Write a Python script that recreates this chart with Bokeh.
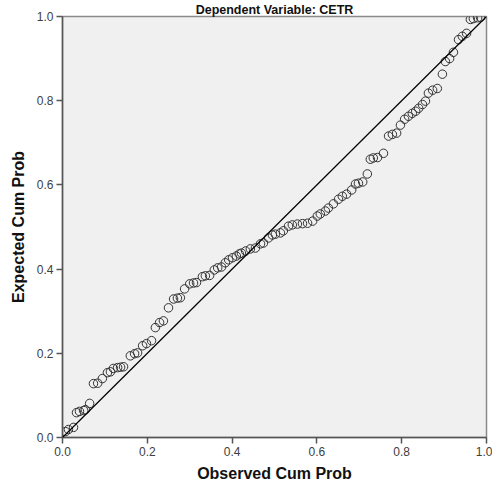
from bokeh.plotting import figure
from bokeh.models import (FixedTicker, PrintfTickFormatter, Slope, Range1d)
from bokeh.embed import file_html
from bokeh.resources import INLINE

title_text = "Dependent Variable: CETR"
x_label = "Observed Cum Prob"
y_label = "Expected Cum Prob"
tick_values = [0.0, 0.2, 0.4, 0.6, 0.8, 1.0]

observed_cum_prob = [
    0.007, 0.014, 0.026, 0.033, 0.040, 0.050, 0.054, 0.064, 0.073, 0.083,
    0.094, 0.106, 0.113, 0.120, 0.130, 0.137, 0.144, 0.160, 0.170, 0.177,
    0.189, 0.198, 0.210, 0.219, 0.229, 0.238, 0.250, 0.262, 0.271, 0.278,
    0.288, 0.300, 0.309, 0.316, 0.330, 0.337, 0.347, 0.358, 0.366, 0.375,
    0.384, 0.392, 0.401, 0.410, 0.417, 0.422, 0.432, 0.443, 0.455, 0.467,
    0.474, 0.486, 0.495, 0.502, 0.514, 0.521, 0.533, 0.542, 0.554, 0.566,
    0.578, 0.590, 0.601, 0.608, 0.620, 0.627, 0.639, 0.651, 0.660, 0.670,
    0.682, 0.691, 0.698, 0.708, 0.719, 0.726, 0.733, 0.743, 0.757, 0.769,
    0.778, 0.788, 0.797, 0.807, 0.816, 0.825, 0.833, 0.840, 0.849, 0.856,
    0.863, 0.873, 0.884, 0.896, 0.903, 0.913, 0.922, 0.934, 0.943, 0.953,
    0.962, 0.969, 0.979, 0.986,
]
expected_cum_prob = [
    0.014, 0.019, 0.024, 0.059, 0.062, 0.064, 0.066, 0.081, 0.128, 0.129,
    0.140, 0.154, 0.156, 0.164, 0.166, 0.167, 0.168, 0.194, 0.199, 0.201,
    0.218, 0.223, 0.230, 0.261, 0.273, 0.277, 0.308, 0.329, 0.331, 0.332,
    0.353, 0.365, 0.367, 0.368, 0.382, 0.384, 0.385, 0.398, 0.403, 0.405,
    0.415, 0.422, 0.427, 0.431, 0.436, 0.438, 0.443, 0.448, 0.450, 0.460,
    0.462, 0.474, 0.481, 0.483, 0.486, 0.491, 0.502, 0.505, 0.507, 0.508,
    0.509, 0.514, 0.526, 0.531, 0.538, 0.545, 0.555, 0.566, 0.573, 0.578,
    0.588, 0.602, 0.604, 0.607, 0.626, 0.661, 0.664, 0.665, 0.675, 0.716,
    0.720, 0.723, 0.742, 0.756, 0.763, 0.770, 0.775, 0.782, 0.791, 0.799,
    0.818, 0.825, 0.829, 0.863, 0.893, 0.900, 0.915, 0.945, 0.953, 0.960,
    0.993, 0.995, 0.997, 0.998,
]

FONT = "Liberation Sans"

p = figure(width=492, height=488, output_backend="svg", toolbar_location=None,
           x_range=Range1d(0, 1), y_range=Range1d(0, 1),
           min_border_left=62, min_border_right=6, min_border_top=0,
           min_border_bottom=51, title=title_text)

p.title.text_font = FONT
p.title.text_font_size = "12.5px"
p.title.text_font_style = "bold"
p.title.text_color = "#111111"
p.title.align = "center"
p.title.offset = -31
p.title.standoff = 0

p.background_fill_color = "#f0f0f0"
p.border_fill_color = "white"
p.outline_line_color = "#8a8a8a"
p.outline_line_width = 1.5
p.xgrid.visible = False
p.ygrid.visible = False

for ax in (p.xaxis[0], p.yaxis[0]):
    ax.ticker = FixedTicker(ticks=tick_values)
    ax.formatter = PrintfTickFormatter(format="%.1f")
    ax.minor_tick_line_color = None
    ax.major_tick_in = 0
    ax.major_tick_out = 6
    ax.major_tick_line_color = "#555555"
    ax.major_tick_line_width = 1.5
    ax.axis_line_color = "#555555"
    ax.axis_line_width = 1.5
    ax.major_label_text_font = FONT
    ax.major_label_text_font_size = "12px"
    ax.major_label_text_color = "#404040"
    ax.axis_label_text_font = FONT
    ax.axis_label_text_font_size = "16px"
    ax.axis_label_text_font_style = "bold"
    ax.axis_label_text_color = "#111111"

p.xaxis.axis_label = x_label
p.yaxis.axis_label = y_label
p.xaxis.major_label_standoff = 3
p.xaxis.axis_label_standoff = 6
p.yaxis.major_label_standoff = 3
p.yaxis.axis_label_standoff = 7

p.add_layout(Slope(gradient=1, y_intercept=0, line_color="black", line_width=1.2))

p.scatter(observed_cum_prob, expected_cum_prob, marker="circle", size=8.5,
          fill_color=None, line_color="#333333", line_width=1)

open("out.html", "w").write(file_html(p, INLINE))
